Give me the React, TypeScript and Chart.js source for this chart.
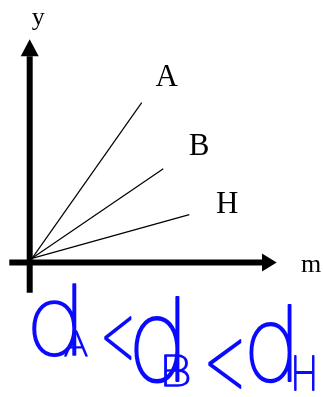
import React, { useEffect, useRef } from "react";
import { Chart, registerables } from "chart.js";

Chart.register(...registerables);

// Data values (in chart units; origin of the three lines at 0,0)
const seriesNames = ["A", "B", "H"];
const lineEndX = [10.97, 13.13, 15.73];
const lineEndY = [15.56, 8.96, 4.36];

// Axis lines (x and y arrays) and arrow tips
const yAxisX = [-0.23, -0.23];
const yAxisY = [-3.44, 20.2];
const yAxisTip = [-0.23, 21.9];
const xAxisX = [-2.27, 23.0];
const xAxisY = [-0.42, -0.42];
const xAxisTip = [24.47, -0.42];

// Labels
const labelTexts = ["A", "B", "H"];
const labelX = [13.47, 16.72, 19.52];
const labelY = [17.26, 10.33, 4.5];
const axisLabelTexts = ["y", "m"];
const axisLabelX = [0.63, 27.92];
const axisLabelY = [23.38, -1.34];

// Handwritten note: d_A < d_B < d_H
const noteParts = ["d", "A", "<", "d", "B", "<", "d", "H"];

const X_MIN = -3.2;
const X_MAX = 29.1;
const Y_MAX = 25.83;
const Y_MIN = -13.87;

const NOTE_BOXES: [number, number, number, number][] = [
  [32, 283, 77, 358],
  [64, 330, 88, 357],
  [104, 316, 132, 360],
  [134, 296, 180, 384],
  [164, 354, 190, 387],
  [208, 339, 242, 389],
  [249, 304, 292, 384],
  [294, 355, 315, 391],
];

const HAND_FONT = '100 100px Inter';
const BLUE = "#0a0aff";

function drawFit(ctx: CanvasRenderingContext2D, text: string, b: [number, number, number, number]) {
  const [x0, y0, x1, y1] = b;
  ctx.save();
  ctx.font = HAND_FONT;
  ctx.textAlign = "left";
  ctx.textBaseline = "alphabetic";
  const m = ctx.measureText(text);
  const w = m.actualBoundingBoxLeft + m.actualBoundingBoxRight;
  const h = m.actualBoundingBoxAscent + m.actualBoundingBoxDescent;
  const sx = (x1 - x0) / w;
  const sy = (y1 - y0) / h;
  const pad = 0.9;
  ctx.translate(x0 + pad, y0 + pad);
  ctx.scale((x1 - x0 - 2 * pad) / w, (y1 - y0 - 2 * pad) / h);
  ctx.fillStyle = BLUE;
  ctx.strokeStyle = BLUE;
  ctx.lineJoin = "round";
  ctx.lineWidth = 1.8 / sx;
  ctx.fillText(text, m.actualBoundingBoxLeft, m.actualBoundingBoxAscent);
  ctx.strokeText(text, m.actualBoundingBoxLeft, m.actualBoundingBoxAscent);
  ctx.restore();
  void sy;
}

const overlayPlugin = {
  id: "overlay",
  afterDatasetsDraw(chart: any) {
    const ctx: CanvasRenderingContext2D = chart.ctx;
    const xs = chart.scales.x;
    const ys = chart.scales.y;
    const px = (v: number) => xs.getPixelForValue(v);
    const py = (v: number) => ys.getPixelForValue(v);
    ctx.save();
    ctx.fillStyle = "#000";
    // y arrow
    {
      const bx = px(yAxisX[1]);
      const by = py(yAxisY[1]);
      const tx = px(yAxisTip[0]);
      const ty = py(yAxisTip[1]);
      ctx.beginPath();
      ctx.moveTo(tx, ty);
      ctx.lineTo(bx - 9, by);
      ctx.lineTo(bx + 9, by);
      ctx.closePath();
      ctx.fill();
    }
    // x arrow
    {
      const bx = px(xAxisX[1]);
      const by = py(xAxisY[1]);
      const tx = px(xAxisTip[0]);
      const ty = py(xAxisTip[1]);
      ctx.beginPath();
      ctx.moveTo(tx, ty);
      ctx.lineTo(bx, by - 9);
      ctx.lineTo(bx, by + 9);
      ctx.closePath();
      ctx.fill();
    }
    ctx.textAlign = "center";
    ctx.textBaseline = "alphabetic";
    ctx.font = '31px "Liberation Serif"';
    labelTexts.forEach((t, i) => ctx.fillText(t, px(labelX[i]), py(labelY[i])));
    ctx.font = '26px "Liberation Serif"';
    axisLabelTexts.forEach((t, i) => ctx.fillText(t, px(axisLabelX[i]), py(axisLabelY[i])));
    ctx.restore();
    noteParts.forEach((t, i) => drawFit(ctx, t, NOTE_BOXES[i]));
  },
};

export default function App() {
  const ref = useRef<HTMLCanvasElement>(null);
  useEffect(() => {
    if (!ref.current) return;
    const lineSets = seriesNames.map((n, i) => ({
      label: n,
      data: [
        { x: 0, y: 0 },
        { x: lineEndX[i], y: lineEndY[i] },
      ],
      showLine: true,
      borderColor: "#000",
      borderWidth: 1.2,
      pointRadius: 0,
    }));
    const axisSets = [
      { label: "yAxis", data: yAxisX.map((x, i) => ({ x, y: yAxisY[i] })) },
      { label: "xAxis", data: xAxisX.map((x, i) => ({ x, y: xAxisY[i] })) },
    ].map((d) => ({
      ...d,
      showLine: true,
      borderColor: "#000",
      borderWidth: 6,
      borderCapStyle: "butt",
      pointRadius: 0,
    }));
    const chart = new Chart(ref.current, {
      type: "scatter",
      data: { datasets: [...axisSets, ...lineSets] as any },
      options: {
        animation: false,
        responsive: false,
        events: [],
        layout: { padding: 0 },
        plugins: { legend: { display: false }, tooltip: { enabled: false } },
        scales: {
          x: { type: "linear", display: false, min: X_MIN, max: X_MAX },
          y: { type: "linear", display: false, min: Y_MIN, max: Y_MAX },
        },
      },
      plugins: [overlayPlugin],
    });
    return () => chart.destroy();
  }, []);
  return (
    <div style={{ position: "absolute", left: 0, top: 0, width: 323, height: 397, background: "#fff" }}>
      <canvas ref={ref} width={323} height={397} style={{ width: 323, height: 397, display: "block" }} />
    </div>
  );
}
